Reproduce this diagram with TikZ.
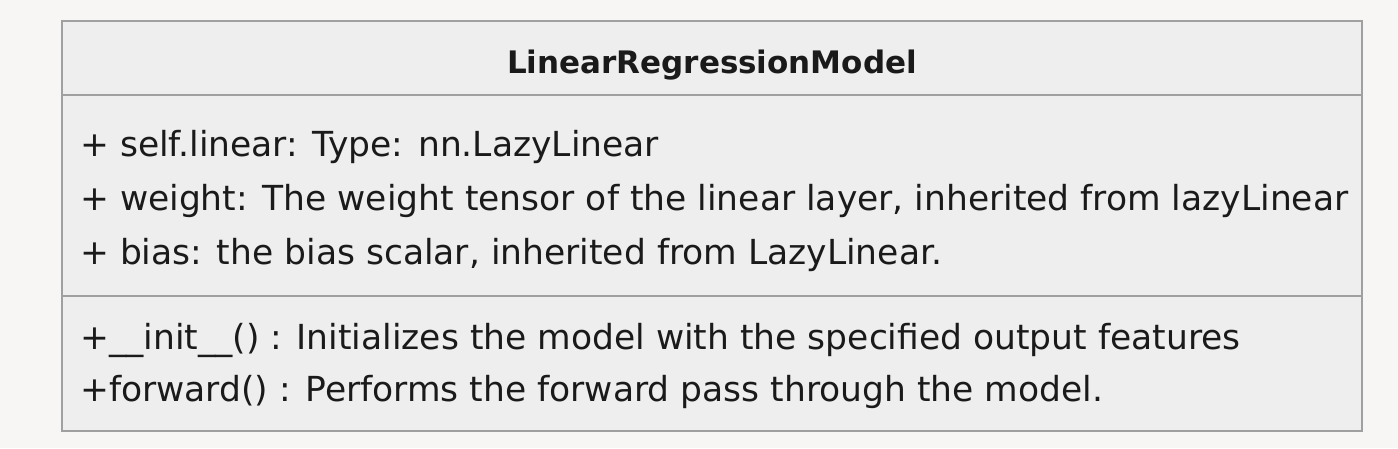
\documentclass[tikz,border=0pt]{standalone}
\usepackage{fontspec}
\setmainfont{DejaVu Sans}
\usepackage{tikz}

\definecolor{pagebg}{HTML}{F7F6F4}
\definecolor{classfill}{HTML}{EEEEEE}
\definecolor{classline}{HTML}{A0A0A0}
\definecolor{classtext}{HTML}{1A1A1A}

\tikzset{
    classrule/.style={draw=classline, line width=2.5pt},
    member/.style={anchor=base west, inner sep=0pt, text=classtext, font=\fontsize{34.5}{40}\selectfont},
    classname/.style={anchor=base, inner sep=0pt, text=classtext, font=\fontsize{31}{36}\selectfont\bfseries}
}

\begin{document}
\begin{tikzpicture}[x=1pt, y=-1pt]
    \fill[pagebg] (0,0) rectangle (1398,448);
    \coordinate (NW) at (62,21);
    \coordinate (SE) at (1362,431);
    \draw[classrule, fill=classfill] (NW) rectangle (SE);
    \draw[classrule] (62,95) -- (1362,95);
    \draw[classrule] (62,296) -- (1362,296);

    % Klassenname
    \node[classname] (title) at (712,73) {LinearRegressionModel};

    \foreach \n/\y/\t in {
        attrLinear/156/{+ self.linear: Type: nn.LazyLinear},
        attrWeight/210/{+ weight: The weight tensor of the linear layer, inherited from lazyLinear},
        attrBias/264/{+ bias: the bias scalar, inherited from LazyLinear.},
        opInit/349/{+\_\_init\_\_() : Initializes the model with the specified output features},
        opForward/401/{+forward() : Performs the forward pass through the model.}} {
        \node[member] (\n) at (80,\y) {\t};
    }
\end{tikzpicture}
\end{document}
